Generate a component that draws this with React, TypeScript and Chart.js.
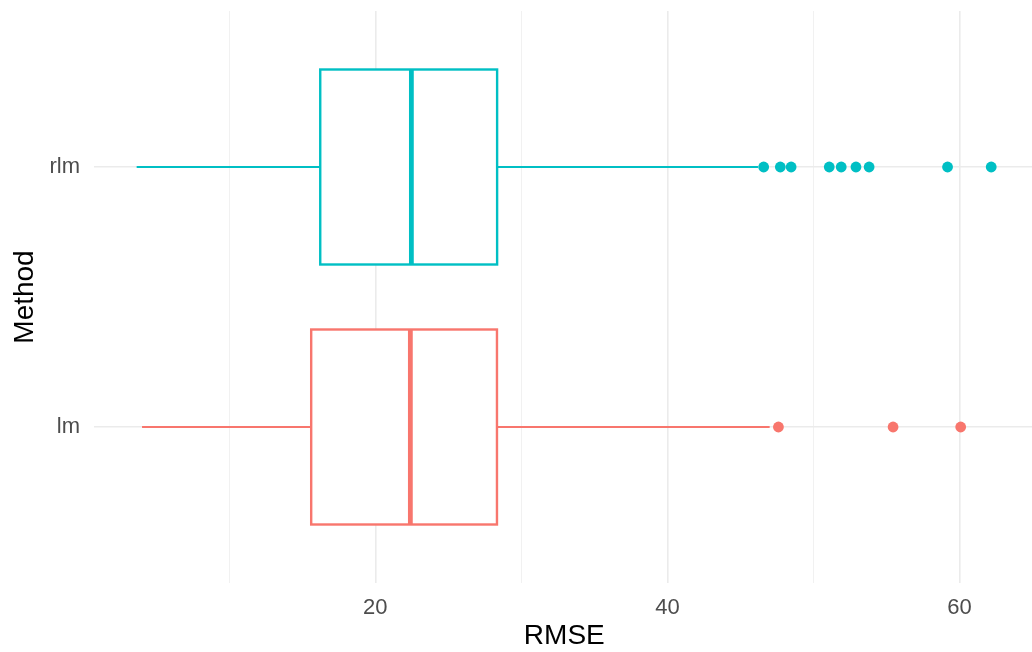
import React, { useEffect, useRef } from "react";
import { Chart, registerables } from "chart.js";

Chart.register(...registerables);

const categories = ["lm", "rlm"];
const categoryPos = [1, 2];
const whiskerLow = [4.03, 3.66];
const q1 = [15.61, 16.23];
const median = [22.4, 22.47];
const q3 = [28.33, 28.34];
const whiskerHigh = [47.0, 46.2];
const outliersLm = [47.6, 55.45, 60.08];
const outliersRlm = [46.59, 47.73, 48.47, 51.08, 51.9, 52.91, 53.81, 59.18, 62.17];
const colors = ["#F8766D", "#00BFC4"];
const xTicks = [10, 20, 30, 40, 50, 60];
const xLabelTicks = [20, 40, 60];

const boxPlugin = {
  id: "boxes",
  beforeDatasetsDraw(chart: any) {
    const ctx = chart.ctx;
    const xs = chart.scales.x;
    const ys = chart.scales.y;
    const halfH = Math.abs(ys.getPixelForValue(0.375) - ys.getPixelForValue(0));
    ctx.save();
    categories.forEach((_, i) => {
      const yc = ys.getPixelForValue(categoryPos[i]);
      const col = colors[i];
      ctx.strokeStyle = col;
      ctx.lineWidth = 2.2;
      ctx.beginPath();
      ctx.moveTo(xs.getPixelForValue(whiskerLow[i]), yc);
      ctx.lineTo(xs.getPixelForValue(q1[i]), yc);
      ctx.moveTo(xs.getPixelForValue(q3[i]), yc);
      ctx.lineTo(xs.getPixelForValue(whiskerHigh[i]), yc);
      ctx.stroke();
      const x1 = xs.getPixelForValue(q1[i]);
      const x3 = xs.getPixelForValue(q3[i]);
      ctx.fillStyle = "#FFFFFF";
      ctx.fillRect(x1, yc - halfH, x3 - x1, 2 * halfH);
      ctx.lineWidth = 2.4;
      ctx.strokeRect(x1, yc - halfH, x3 - x1, 2 * halfH);
      ctx.lineWidth = 4.8;
      const xm = xs.getPixelForValue(median[i]);
      ctx.beginPath();
      ctx.moveTo(xm, yc - halfH);
      ctx.lineTo(xm, yc + halfH);
      ctx.stroke();
    });
    ctx.restore();
  },
};

export default function App() {
  const ref = useRef<HTMLCanvasElement | null>(null);
  useEffect(() => {
    if (!ref.current) return;
    const font = "'Liberation Sans', Arial, Helvetica, sans-serif";
    const chart = new Chart(ref.current, {
      type: "scatter",
      data: {
        datasets: [
          {
            label: "lm",
            data: outliersLm.map((v) => ({ x: v, y: categoryPos[0] })),
            backgroundColor: colors[0],
            borderColor: colors[0],
            pointRadius: 5.4,
            borderWidth: 0,
          },
          {
            label: "rlm",
            data: outliersRlm.map((v) => ({ x: v, y: categoryPos[1] })),
            backgroundColor: colors[1],
            borderColor: colors[1],
            pointRadius: 5.4,
            borderWidth: 0,
          },
        ],
      },
      options: {
        animation: false,
        responsive: false,
        devicePixelRatio: 1,
        layout: { padding: { top: 11, right: 0, left: 0, bottom: 0 } },
        plugins: {
          legend: { display: false },
          tooltip: { enabled: false },
        },
        scales: {
          x: {
            type: "linear",
            min: 0.74,
            max: 65.14,
            afterBuildTicks: (s: any) => {
              s.ticks = xTicks.map((v) => ({ value: v }));
            },
            afterFit: (s: any) => {
              s.height = 69;
              s.paddingLeft = 0;
              s.paddingRight = 0;
            },
            border: { display: false },
            grid: {
              drawTicks: false,
              color: (c: any) =>
                c.tick && xLabelTicks.includes(c.tick.value) ? "#EBEBEB" : "#F1F1F1",
              lineWidth: (c: any) =>
                c.tick && xLabelTicks.includes(c.tick.value) ? 1.6 : 1.0,
            },
            ticks: {
              padding: 12,
              color: "#4D4D4D",
              font: { family: font, size: 22 },
              maxRotation: 0,
              autoSkip: false,
              callback: (v: any) => (xLabelTicks.includes(Number(v)) ? String(v) : ""),
            },
            title: {
              display: true,
              text: "RMSE",
              color: "#000000",
              font: { family: font, size: 28 },
              padding: { top: 0, bottom: -1 },
            },
          },
          y: {
            type: "linear",
            min: 0.4,
            max: 2.6,
            afterBuildTicks: (s: any) => {
              s.ticks = categoryPos.map((v) => ({ value: v }));
            },
            afterFit: (s: any) => {
              s.width = 94;
              s.paddingTop = 0;
              s.paddingBottom = 0;
            },
            border: { display: false },
            grid: {
              drawTicks: false,
              color: "#EBEBEB",
              lineWidth: 1.6,
            },
            ticks: {
              padding: 14,
              color: "#4D4D4D",
              font: { family: font, size: 22 },
              autoSkip: false,
              callback: (v: any) => {
                const idx = categoryPos.indexOf(Number(v));
                return idx >= 0 ? categories[idx] : "";
              },
            },
            title: {
              display: true,
              text: "Method",
              color: "#000000",
              font: { family: font, size: 28 },
              padding: { top: 8, bottom: 0 },
            },
          },
        },
      },
      plugins: [boxPlugin],
    });
    return () => chart.destroy();
  }, []);
  return (
    <div
      style={{
        position: "absolute",
        left: 0,
        top: 0,
        width: 1032,
        height: 652,
        overflow: "hidden",
        background: "#FFFFFF",
      }}
    >
      <canvas ref={ref} width={1040} height={652} style={{ width: 1040, height: 652, display: "block" }} />
    </div>
  );
}
